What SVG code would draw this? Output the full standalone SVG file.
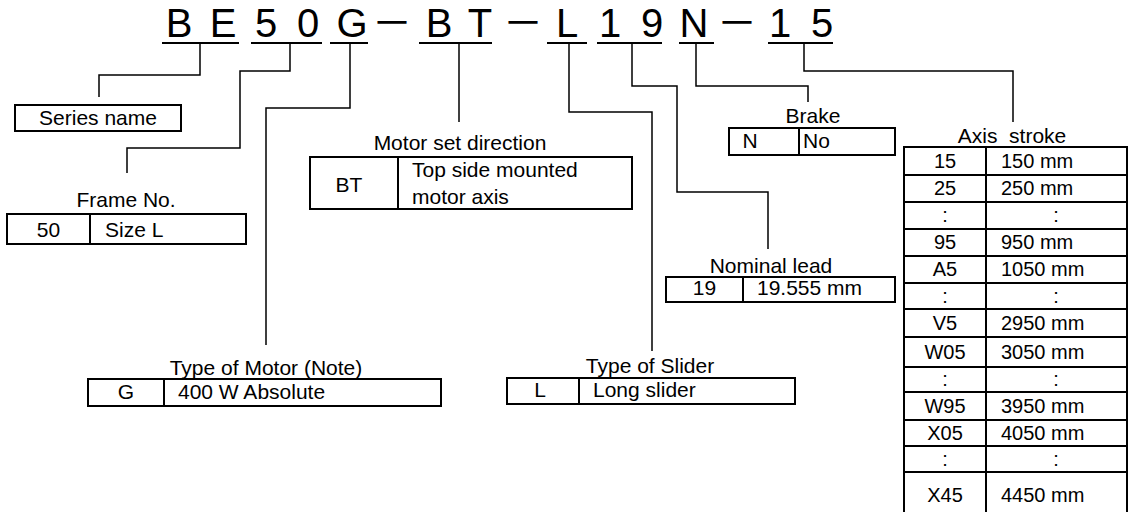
<svg xmlns="http://www.w3.org/2000/svg" width="1133" height="512" viewBox="0 0 1133 512">
<style>
.t{font-family:"Liberation Sans",Arial,"Noto Sans CJK JP",sans-serif;font-size:21px;fill:#000}
.n{font-size:20px}
.m{text-anchor:middle}
.big{font-family:"Liberation Sans",Arial,"Noto Sans CJK JP",sans-serif;font-size:40px;fill:#000;text-anchor:middle}
.box{fill:none;stroke:#000;stroke-width:2}
.ln{fill:none;stroke:#000;stroke-width:2}
.con{fill:none;stroke:#000;stroke-width:1.5}
</style>
<rect width="1133" height="512" fill="#fff"/>
<g id="title">
<text class="big" x="179" y="37">B</text>
<text class="big" x="223" y="37">E</text>
<text class="big" x="266" y="37">5</text>
<text class="big" x="308" y="37">0</text>
<text class="big" x="352" y="37">G</text>
<text class="big" x="392" y="37">－</text>
<text class="big" x="439" y="37">B</text>
<text class="big" x="480" y="37">T</text>
<text class="big" x="523" y="37">－</text>
<text class="big" x="567" y="37">L</text>
<text class="big" x="610" y="37">1</text>
<text class="big" x="652" y="37">9</text>
<text class="big" x="694" y="37">N</text>
<text class="big" x="737" y="37">－</text>
<text class="big" x="780" y="37">1</text>
<text class="big" x="822" y="37">5</text>
<path class="ln" d="M162 43H239M251 43H322M330 43H368M419 43H492M547 43H587M597 43H662M679 43H714M768 43H833"/>
</g>
<g id="connectors">
<path class="con" d="M200 43V75H99V97"/>
<path class="con" d="M290 43V71H240V148H127V173"/>
<path class="con" d="M350 43V108H266V345"/>
<path class="con" d="M459 43V122"/>
<path class="con" d="M569 43V112H652V351"/>
<path class="con" d="M632 43V86H677V192H768V249"/>
<path class="con" d="M696 43V86H808V102"/>
<path class="con" d="M804 43V71H1013V122"/>
</g>
<g id="series">
<rect class="box" x="15" y="105" width="166" height="26"/>
<text class="t m" x="98" y="125">Series name</text>
</g>
<g id="frame">
<text class="t m" x="126" y="207">Frame No.</text>
<rect class="box" x="7" y="214" width="239" height="30"/>
<path class="ln" d="M90 214V244"/>
<text class="t m" x="48.5" y="237">50</text>
<text class="t" x="105" y="237">Size L</text>
</g>
<g id="motor">
<text class="t m" x="266" y="375">Type of Motor (Note)</text>
<rect class="box" x="88" y="379" width="353" height="27"/>
<path class="ln" d="M164 379V406"/>
<text class="t m" x="126" y="399">G</text>
<text class="t" x="178" y="399">400 W Absolute</text>
</g>
<g id="direction">
<text class="t m" x="460" y="150">Motor set direction</text>
<rect class="box" x="310" y="157" width="322" height="52"/>
<path class="ln" d="M398 157V209"/>
<text class="t m" x="349" y="192">BT</text>
<text class="t" x="412" y="177">Top side mounted</text>
<text class="t" x="412" y="204">motor axis</text>
</g>
<g id="slider">
<text class="t m" x="650" y="373">Type of Slider</text>
<rect class="box" x="507" y="378" width="288" height="26"/>
<path class="ln" d="M579 378V404"/>
<text class="t m" x="540" y="397">L</text>
<text class="t" x="593" y="397">Long slider</text>
</g>
<g id="lead">
<text class="t m" x="771" y="273">Nominal lead</text>
<rect class="box" x="666" y="277" width="229" height="25"/>
<path class="ln" d="M743 277V302"/>
<text class="t m" x="704.5" y="295">19</text>
<text class="t" x="757" y="295">19.555 mm</text>
</g>
<g id="brake">
<text class="t m" x="813" y="123">Brake</text>
<rect class="box" x="729" y="128" width="166" height="27"/>
<path class="ln" d="M799 128V155"/>
<text class="t m" x="750" y="148">N</text>
<text class="t" x="803" y="148">No</text>
</g>
<g id="stroke">
<text class="t m" x="1012" y="143" xml:space="preserve">Axis  stroke</text>
<rect class="box" x="904" y="147" width="223" height="380"/>
<path class="ln" d="M986 147V527M904 175H1127M904 202H1127M904 229H1127M904 256H1127M904 283H1127M904 309H1127M904 337H1127M904 367H1127M904 392H1127M904 420H1127M904 446H1127M904 472H1127"/>
<g class="t n">
<text class="m" x="945" y="168">15</text><text x="1001" y="168">150 mm</text>
<text class="m" x="945" y="195">25</text><text x="1001" y="195">250 mm</text>
<text class="m" x="945" y="222">:</text><text class="m" x="1056" y="222">:</text>
<text class="m" x="945" y="249">95</text><text x="1001" y="249">950 mm</text>
<text class="m" x="945" y="276">A5</text><text x="1001" y="276">1050 mm</text>
<text class="m" x="945" y="303">:</text><text class="m" x="1056" y="303">:</text>
<text class="m" x="945" y="330">V5</text><text x="1001" y="330">2950 mm</text>
<text class="m" x="945" y="359">W05</text><text x="1001" y="359">3050 mm</text>
<text class="m" x="945" y="386">:</text><text class="m" x="1056" y="386">:</text>
<text class="m" x="945" y="413">W95</text><text x="1001" y="413">3950 mm</text>
<text class="m" x="945" y="440">X05</text><text x="1001" y="440">4050 mm</text>
<text class="m" x="945" y="466">:</text><text class="m" x="1056" y="466">:</text>
<text class="m" x="945" y="502">X45</text><text x="1001" y="502">4450 mm</text>
</g>
</g>
</svg>
